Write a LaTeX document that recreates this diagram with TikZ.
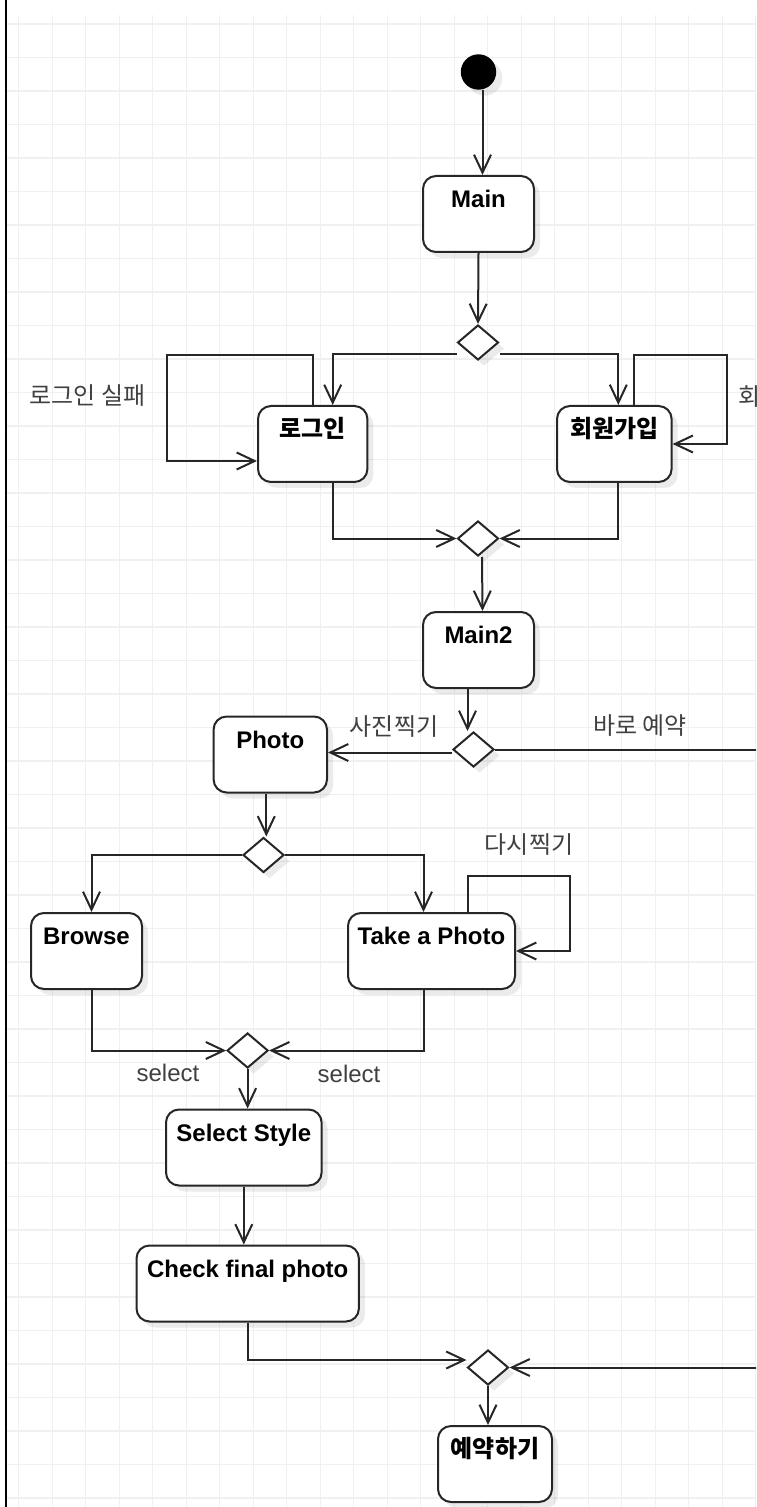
\documentclass[tikz,border=0pt]{standalone}
\usepackage{fontspec}
\setmainfont{Liberation Sans}
\newfontfamily\kr{Noto Sans CJK KR}
\usetikzlibrary{shapes.geometric,arrows.meta,shadows}

\begin{document}
\begin{tikzpicture}[
        x=0.5pt, y=-0.5pt,
        shade/.style={drop shadow={shadow xshift=3pt, shadow yshift=-3pt, opacity=0.08, fill=black}},
        act/.style={draw=black!85, line width=1pt, rounded corners=6.5pt, fill=white, shade,
            minimum height=38pt, text height=15.8pt, text depth=22.2pt, inner ysep=0pt, inner xsep=2pt,
            font=\bfseries\fontsize{12}{14}\selectfont},
        choice/.style={diamond, draw=black!85, line width=1pt, fill=white, shade, inner sep=0pt,
            minimum width=20.5pt, minimum height=17.5pt},
        initial/.style={circle, fill=black, minimum size=17.7pt, inner sep=0pt, shade},
        arrow/.style={-{Straight Barb[length=9pt,width=8.5pt]}, line width=1pt, draw=black!85},
        lbl/.style={inner sep=0pt, text=black!75, font=\fontsize{12}{14}\selectfont},
        gridline/.style={line width=0.6pt, draw=black!6}
    ]
        \useasboundingbox (0,0) rectangle (756,1507);
        \clip (0,0) rectangle (756,1507);

        % Background grid and left border
        \foreach \i in {0,...,22}
            \draw[gridline] ({18.7+33.5*\i},15) -- ({18.7+33.5*\i},1507);
        \foreach \j in {0,...,44}
            \draw[gridline] (6,{24+33.5*\j}) -- (756,{24+33.5*\j});
        \draw[line width=1.2pt] (5.8,0) -- (5.8,1507);

        % Start and main
        \node[initial] (start) at (478.5,72) {};
        \node[act, minimum width=55.5pt] (main) at (478.5,214) {Main};
        \node[choice] (d1) at (478,342.5) {};

        % Login / sign up
        \node[act, minimum width=54.7pt] (login) at (312.7,444) {\kr 로그인};
        \node[act, minimum width=57.3pt] (signup) at (614.3,444) {\kr 회원가입};
        \node[choice] (d2) at (478,538.5) {};

        % Main2 and branch
        \node[act, minimum width=55.5pt] (main2) at (478.5,650) {Main2};
        \node[choice] (d3) at (473.5,749.5) {};
        \node[act, minimum width=56.7pt] (photo) at (270.3,754.5) {Photo};
        \node[choice] (d4) at (263.5,855) {};

        % Browse / take a photo
        \node[act, minimum width=55.5pt] (browse) at (86.5,951) {Browse};
        \node[act, minimum width=83.5pt] (take) at (431.5,951) {Take a Photo};
        \node[choice] (d5) at (247.6,1050.5) {};

        % Style, check, reservation
        \node[act, minimum width=77.8pt] (selstyle) at (243.8,1147.5) {Select Style};
        \node[act, minimum width=111.2pt] (check) at (247.7,1283.5) {Check final photo};
        \node[choice] (d6) at (488,1367.5) {};
        \node[act, minimum width=57pt] (reserve) at (495,1464) {\kr 예약하기};

        % Flow arrows
        \draw[arrow] ([xshift=2pt]start.south) -- ([xshift=2pt]main.north);
        \draw[arrow] (main.south) -- (d1.north);
        \draw[arrow] ([yshift=-6pt]d1.west) -| ([xshift=10pt]login.north);
        \draw[arrow] ([yshift=-6pt]d1.east) -| ([xshift=2pt]signup.north);
        \draw[arrow] (login.north) |- (167,355) |- ([yshift=-8.5pt]login.west);
        \draw[arrow] ([xshift=10pt]signup.north) |- (726.6,355) |- (signup.east);
        \draw[arrow] ([xshift=10pt]login.south) |- (d2.west);
        \draw[arrow] ([xshift=2pt]signup.south) |- (d2.east);
        \draw[arrow] ([xshift=2pt]d2.south) -- ([xshift=2pt]main2.north);
        \draw[arrow] ([xshift=-5.5pt]main2.south) -- ([xshift=-5.5pt]main2.south |- d3.north);
        \draw[arrow] ([yshift=-1.5pt]d3.west) -- ([yshift=-1.5pt]d3.west -| photo.east);
        \draw[arrow] (d3.east) -- ++(170pt,0) |- (d6.east);
        \draw[arrow] ([xshift=-2pt]photo.south) -- ([xshift=-2pt]photo.south |- d4.north);
        \draw[arrow] (d4.west) -| ([xshift=2.5pt]browse.north);
        \draw[arrow] (d4.east) -| ([xshift=-4pt]take.north);
        \draw[arrow] ([xshift=18pt]take.north) |- (570,876) |- (take.east);
        \draw[arrow] ([xshift=2.5pt]browse.south) |- (d5.west);
        \draw[arrow] ([xshift=-4pt]take.south) |- (d5.east);
        \draw[arrow] (d5.south) -- (d5.south |- selstyle.north);
        \draw[arrow] (selstyle.south) -- (selstyle.south |- check.north);
        \draw[arrow] (check.south) |- ([yshift=3.75pt]d6.west);
        \draw[arrow] (d6.south) -- (d6.south |- reserve.north);

        % Edge labels
        \node[lbl, anchor=west] (failin) at (29,396) {\kr 로그인 실패};
        \node[lbl, anchor=west] (failup) at (738,397) {\kr 회};
        \node[lbl] (shoot) at (394,727) {\kr 사진찍기};
        \node[lbl] (direct) at (640,726) {\kr 바로 예약};
        \node[lbl] (retake) at (529,845) {\kr 다시찍기};
        \node[lbl] (selA) at (168,1073) {select};
        \node[lbl] (selB) at (349,1074) {select};
    \end{tikzpicture}
\end{document}
